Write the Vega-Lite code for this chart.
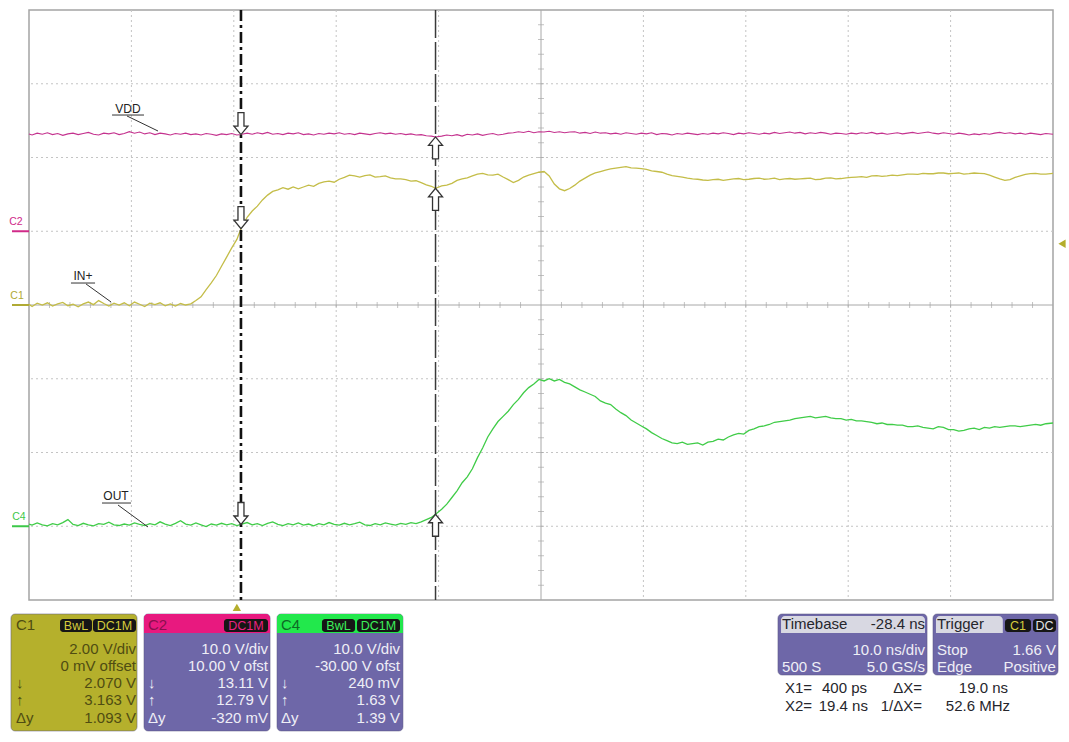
{
  "$schema": "https://vega.github.io/schema/vega-lite/v6.json",
  "width": 1024,
  "height": 590,
  "autosize": {"type": "none"},
  "padding": {"left": 29, "top": 10, "right": 16, "bottom": 142},
  "background": "#ffffff",
  "config": {"view": {"stroke": "#a4a4a4", "strokeWidth": 1.5}},
  "resolve": {"scale": {"x": "independent", "y": "independent", "color": "independent", "fill": "independent", "shape": "independent"}},
  "datasets": {
    "c1": [
      {"t": -20.3, "v": 0.02}, {"t": -20, "v": -0.04}, {"t": -19.5, "v": 0.05}, {"t": -19, "v": 0.0}, {"t": -18.5, "v": 0.06},
      {"t": -18, "v": -0.03}, {"t": -17.5, "v": 0.03}, {"t": -17, "v": 0.07}, {"t": -16.5, "v": -0.02}, {"t": -16, "v": 0.02},
      {"t": -15.5, "v": -0.05}, {"t": -15, "v": 0.03}, {"t": -14.5, "v": 0.08}, {"t": -14, "v": 0.01}, {"t": -13.5, "v": 0.12},
      {"t": -13, "v": 0.04}, {"t": -12.5, "v": -0.03}, {"t": -12, "v": 0.05}, {"t": -11.5, "v": 0.0}, {"t": -11, "v": 0.06},
      {"t": -10.5, "v": -0.02}, {"t": -10, "v": 0.08}, {"t": -9.5, "v": 0.02}, {"t": -9, "v": -0.04}, {"t": -8.5, "v": 0.05},
      {"t": -8, "v": 0.01}, {"t": -7.5, "v": 0.06}, {"t": -7, "v": -0.02}, {"t": -6.5, "v": 0.03}, {"t": -6, "v": -0.03},
      {"t": -5.5, "v": 0.04}, {"t": -5, "v": 0.0}, {"t": -4.5, "v": 0.03}, {"t": -4, "v": 0.12}, {"t": -3.5, "v": 0.22},
      {"t": -3, "v": 0.42}, {"t": -2.5, "v": 0.6}, {"t": -2, "v": 0.8}, {"t": -1.5, "v": 1.05}, {"t": -1, "v": 1.3},
      {"t": -0.5, "v": 1.55}, {"t": 0, "v": 1.78}, {"t": 0.4, "v": 2.07}, {"t": 1, "v": 2.38}, {"t": 1.5, "v": 2.55},
      {"t": 2, "v": 2.68}, {"t": 2.5, "v": 2.85}, {"t": 3, "v": 2.98}, {"t": 3.5, "v": 3.08}, {"t": 4, "v": 3.12},
      {"t": 4.5, "v": 3.18}, {"t": 5, "v": 3.14}, {"t": 5.5, "v": 3.2}, {"t": 6, "v": 3.15}, {"t": 6.5, "v": 3.2},
      {"t": 7, "v": 3.25}, {"t": 7.5, "v": 3.22}, {"t": 8, "v": 3.3}, {"t": 8.5, "v": 3.34}, {"t": 9, "v": 3.36},
      {"t": 9.5, "v": 3.33}, {"t": 10, "v": 3.41}, {"t": 10.5, "v": 3.46}, {"t": 11, "v": 3.52}, {"t": 11.5, "v": 3.5},
      {"t": 12, "v": 3.47}, {"t": 12.5, "v": 3.51}, {"t": 13, "v": 3.53}, {"t": 13.5, "v": 3.47}, {"t": 14, "v": 3.48},
      {"t": 14.5, "v": 3.5}, {"t": 15, "v": 3.45}, {"t": 15.5, "v": 3.42}, {"t": 16, "v": 3.42}, {"t": 16.5, "v": 3.4},
      {"t": 17, "v": 3.36}, {"t": 17.5, "v": 3.37}, {"t": 18, "v": 3.32}, {"t": 18.5, "v": 3.26}, {"t": 19, "v": 3.22},
      {"t": 19.4, "v": 3.163}, {"t": 20, "v": 3.23}, {"t": 20.5, "v": 3.25}, {"t": 21, "v": 3.3}, {"t": 21.5, "v": 3.38},
      {"t": 22, "v": 3.42}, {"t": 22.5, "v": 3.45}, {"t": 23, "v": 3.5}, {"t": 23.5, "v": 3.55}, {"t": 24, "v": 3.57},
      {"t": 24.5, "v": 3.53}, {"t": 25, "v": 3.52}, {"t": 25.5, "v": 3.55}, {"t": 26, "v": 3.47}, {"t": 26.5, "v": 3.4},
      {"t": 27, "v": 3.32}, {"t": 27.5, "v": 3.38}, {"t": 28, "v": 3.47}, {"t": 28.5, "v": 3.52}, {"t": 29, "v": 3.56},
      {"t": 29.5, "v": 3.6}, {"t": 30, "v": 3.62}, {"t": 30.5, "v": 3.5}, {"t": 31, "v": 3.28}, {"t": 31.5, "v": 3.15},
      {"t": 32, "v": 3.1}, {"t": 32.5, "v": 3.16}, {"t": 33, "v": 3.25}, {"t": 33.5, "v": 3.36}, {"t": 34, "v": 3.44},
      {"t": 34.5, "v": 3.52}, {"t": 35, "v": 3.58}, {"t": 35.5, "v": 3.62}, {"t": 36, "v": 3.66}, {"t": 36.5, "v": 3.69},
      {"t": 37, "v": 3.71}, {"t": 37.5, "v": 3.73}, {"t": 38, "v": 3.75}, {"t": 38.5, "v": 3.72}, {"t": 39, "v": 3.71},
      {"t": 39.5, "v": 3.7}, {"t": 40, "v": 3.68}, {"t": 40.5, "v": 3.64}, {"t": 41, "v": 3.62}, {"t": 41.5, "v": 3.6},
      {"t": 42, "v": 3.55}, {"t": 42.5, "v": 3.51}, {"t": 43, "v": 3.49}, {"t": 43.5, "v": 3.47}, {"t": 44, "v": 3.44},
      {"t": 44.5, "v": 3.42}, {"t": 45, "v": 3.41}, {"t": 45.5, "v": 3.39}, {"t": 46, "v": 3.38}, {"t": 46.5, "v": 3.4},
      {"t": 47, "v": 3.41}, {"t": 47.5, "v": 3.38}, {"t": 48, "v": 3.4}, {"t": 48.5, "v": 3.42}, {"t": 49, "v": 3.43},
      {"t": 49.5, "v": 3.4}, {"t": 50, "v": 3.41}, {"t": 50.5, "v": 3.43}, {"t": 51, "v": 3.44}, {"t": 51.5, "v": 3.41},
      {"t": 52, "v": 3.42}, {"t": 52.5, "v": 3.44}, {"t": 53, "v": 3.4}, {"t": 53.5, "v": 3.42}, {"t": 54, "v": 3.43},
      {"t": 54.5, "v": 3.41}, {"t": 55, "v": 3.42}, {"t": 55.5, "v": 3.43}, {"t": 56, "v": 3.44}, {"t": 56.5, "v": 3.4},
      {"t": 57, "v": 3.41}, {"t": 57.5, "v": 3.44}, {"t": 58, "v": 3.45}, {"t": 58.5, "v": 3.42}, {"t": 59, "v": 3.43},
      {"t": 59.5, "v": 3.45}, {"t": 60, "v": 3.46}, {"t": 60.5, "v": 3.47}, {"t": 61, "v": 3.48}, {"t": 61.5, "v": 3.46},
      {"t": 62, "v": 3.5}, {"t": 62.5, "v": 3.51}, {"t": 63, "v": 3.49}, {"t": 63.5, "v": 3.5}, {"t": 64, "v": 3.52},
      {"t": 64.5, "v": 3.51}, {"t": 65, "v": 3.53}, {"t": 65.5, "v": 3.55}, {"t": 66, "v": 3.55}, {"t": 66.5, "v": 3.54},
      {"t": 67, "v": 3.57}, {"t": 67.5, "v": 3.56}, {"t": 68, "v": 3.56}, {"t": 68.5, "v": 3.58}, {"t": 69, "v": 3.58},
      {"t": 69.5, "v": 3.56}, {"t": 70, "v": 3.57}, {"t": 70.5, "v": 3.58}, {"t": 71, "v": 3.55}, {"t": 71.5, "v": 3.56},
      {"t": 72, "v": 3.58}, {"t": 72.5, "v": 3.57}, {"t": 73, "v": 3.56}, {"t": 73.5, "v": 3.52}, {"t": 74, "v": 3.47},
      {"t": 74.5, "v": 3.42}, {"t": 75, "v": 3.38}, {"t": 75.5, "v": 3.4}, {"t": 76, "v": 3.46}, {"t": 76.5, "v": 3.5},
      {"t": 77, "v": 3.54}, {"t": 77.5, "v": 3.56}, {"t": 78, "v": 3.57}, {"t": 78.5, "v": 3.55}, {"t": 79, "v": 3.55},
      {"t": 79.7, "v": 3.57}
    ],
    "c2": [
      {"t": -20.3, "v": 13.2}, {"t": -20, "v": 13.05}, {"t": -19.5, "v": 13.3}, {"t": -19, "v": 13.15}, {"t": -18.5, "v": 13.35},
      {"t": -18, "v": 13.1}, {"t": -17.5, "v": 13.25}, {"t": -17, "v": 13.0}, {"t": -16.5, "v": 13.2}, {"t": -16, "v": 13.3},
      {"t": -15.5, "v": 13.1}, {"t": -15, "v": 13.25}, {"t": -14.5, "v": 13.4}, {"t": -14, "v": 13.15}, {"t": -13.5, "v": 13.05},
      {"t": -13, "v": 13.3}, {"t": -12.5, "v": 13.2}, {"t": -12, "v": 13.35}, {"t": -11.5, "v": 13.1}, {"t": -11, "v": 13.25},
      {"t": -10.5, "v": 13.5}, {"t": -10, "v": 13.3}, {"t": -9.5, "v": 13.45}, {"t": -9, "v": 13.2}, {"t": -8.5, "v": 13.35},
      {"t": -8, "v": 13.1}, {"t": -7.5, "v": 13.3}, {"t": -7, "v": 13.2}, {"t": -6.5, "v": 13.05}, {"t": -6, "v": 13.25},
      {"t": -5.5, "v": 13.15}, {"t": -5, "v": 13.3}, {"t": -4.5, "v": 13.1}, {"t": -4, "v": 13.2}, {"t": -3.5, "v": 13.05},
      {"t": -3, "v": 13.25}, {"t": -2.5, "v": 13.15}, {"t": -2, "v": 13.0}, {"t": -1.5, "v": 13.2}, {"t": -1, "v": 13.1},
      {"t": -0.5, "v": 13.25}, {"t": 0, "v": 13.05}, {"t": 0.4, "v": 13.11}, {"t": 1, "v": 13.3}, {"t": 1.5, "v": 13.15},
      {"t": 2, "v": 13.35}, {"t": 2.5, "v": 13.2}, {"t": 3, "v": 13.4}, {"t": 3.5, "v": 13.15}, {"t": 4, "v": 13.25},
      {"t": 4.5, "v": 13.1}, {"t": 5, "v": 13.3}, {"t": 5.5, "v": 13.2}, {"t": 6, "v": 13.35}, {"t": 6.5, "v": 13.1},
      {"t": 7, "v": 13.2}, {"t": 7.5, "v": 13.05}, {"t": 8, "v": 13.25}, {"t": 8.5, "v": 13.15}, {"t": 9, "v": 13.3},
      {"t": 9.5, "v": 13.2}, {"t": 10, "v": 13.35}, {"t": 10.5, "v": 13.15}, {"t": 11, "v": 13.25}, {"t": 11.5, "v": 13.1},
      {"t": 12, "v": 13.3}, {"t": 12.5, "v": 13.2}, {"t": 13, "v": 13.1}, {"t": 13.5, "v": 13.25}, {"t": 14, "v": 13.35},
      {"t": 14.5, "v": 13.2}, {"t": 15, "v": 13.3}, {"t": 15.5, "v": 13.15}, {"t": 16, "v": 13.25}, {"t": 16.5, "v": 13.1},
      {"t": 17, "v": 13.2}, {"t": 17.5, "v": 13.05}, {"t": 18, "v": 13.1}, {"t": 18.5, "v": 12.95}, {"t": 19, "v": 12.9},
      {"t": 19.4, "v": 12.79}, {"t": 20, "v": 12.9}, {"t": 20.5, "v": 13.05}, {"t": 21, "v": 12.95}, {"t": 21.5, "v": 13.1},
      {"t": 22, "v": 12.9}, {"t": 22.5, "v": 13.15}, {"t": 23, "v": 13.05}, {"t": 23.5, "v": 13.2}, {"t": 24, "v": 13.0},
      {"t": 24.5, "v": 13.15}, {"t": 25, "v": 13.25}, {"t": 25.5, "v": 13.05}, {"t": 26, "v": 13.15}, {"t": 26.5, "v": 13.3},
      {"t": 27, "v": 13.35}, {"t": 27.5, "v": 13.5}, {"t": 28, "v": 13.4}, {"t": 28.5, "v": 13.55}, {"t": 29, "v": 13.35},
      {"t": 29.5, "v": 13.5}, {"t": 30, "v": 13.45}, {"t": 30.5, "v": 13.55}, {"t": 31, "v": 13.4}, {"t": 31.5, "v": 13.5},
      {"t": 32, "v": 13.35}, {"t": 32.5, "v": 13.45}, {"t": 33, "v": 13.5}, {"t": 33.5, "v": 13.3}, {"t": 34, "v": 13.4},
      {"t": 34.5, "v": 13.25}, {"t": 35, "v": 13.45}, {"t": 35.5, "v": 13.3}, {"t": 36, "v": 13.35}, {"t": 36.5, "v": 13.2},
      {"t": 37, "v": 13.3}, {"t": 37.5, "v": 13.15}, {"t": 38, "v": 13.35}, {"t": 38.5, "v": 13.25}, {"t": 39, "v": 13.15},
      {"t": 39.5, "v": 13.3}, {"t": 40, "v": 13.2}, {"t": 40.5, "v": 13.35}, {"t": 41, "v": 13.1}, {"t": 41.5, "v": 13.25},
      {"t": 42, "v": 13.2}, {"t": 42.5, "v": 13.05}, {"t": 43, "v": 13.25}, {"t": 43.5, "v": 13.15}, {"t": 44, "v": 13.3},
      {"t": 44.5, "v": 13.2}, {"t": 45, "v": 13.1}, {"t": 45.5, "v": 13.25}, {"t": 46, "v": 13.15}, {"t": 46.5, "v": 13.3},
      {"t": 47, "v": 13.2}, {"t": 47.5, "v": 13.35}, {"t": 48, "v": 13.25}, {"t": 48.5, "v": 13.1}, {"t": 49, "v": 13.3},
      {"t": 49.5, "v": 13.2}, {"t": 50, "v": 13.35}, {"t": 50.5, "v": 13.25}, {"t": 51, "v": 13.15}, {"t": 51.5, "v": 13.3},
      {"t": 52, "v": 13.2}, {"t": 52.5, "v": 13.4}, {"t": 53, "v": 13.25}, {"t": 53.5, "v": 13.35}, {"t": 54, "v": 13.45},
      {"t": 54.5, "v": 13.3}, {"t": 55, "v": 13.4}, {"t": 55.5, "v": 13.2}, {"t": 56, "v": 13.35}, {"t": 56.5, "v": 13.25},
      {"t": 57, "v": 13.4}, {"t": 57.5, "v": 13.3}, {"t": 58, "v": 13.15}, {"t": 58.5, "v": 13.3}, {"t": 59, "v": 13.25},
      {"t": 59.5, "v": 13.15}, {"t": 60, "v": 13.3}, {"t": 60.5, "v": 13.2}, {"t": 61, "v": 13.35}, {"t": 61.5, "v": 13.25},
      {"t": 62, "v": 13.4}, {"t": 62.5, "v": 13.2}, {"t": 63, "v": 13.3}, {"t": 63.5, "v": 13.15}, {"t": 64, "v": 13.25},
      {"t": 64.5, "v": 13.35}, {"t": 65, "v": 13.2}, {"t": 65.5, "v": 13.3}, {"t": 66, "v": 13.4}, {"t": 66.5, "v": 13.25},
      {"t": 67, "v": 13.35}, {"t": 67.5, "v": 13.45}, {"t": 68, "v": 13.3}, {"t": 68.5, "v": 13.2}, {"t": 69, "v": 13.35},
      {"t": 69.5, "v": 13.25}, {"t": 70, "v": 13.15}, {"t": 70.5, "v": 13.3}, {"t": 71, "v": 13.2}, {"t": 71.5, "v": 13.05},
      {"t": 72, "v": 13.2}, {"t": 72.5, "v": 13.1}, {"t": 73, "v": 13.25}, {"t": 73.5, "v": 13.15}, {"t": 74, "v": 13.3},
      {"t": 74.5, "v": 13.4}, {"t": 75, "v": 13.25}, {"t": 75.5, "v": 13.35}, {"t": 76, "v": 13.2}, {"t": 76.5, "v": 13.3},
      {"t": 77, "v": 13.15}, {"t": 77.5, "v": 13.3}, {"t": 78, "v": 13.2}, {"t": 78.5, "v": 13.1}, {"t": 79, "v": 13.25},
      {"t": 79.7, "v": 13.15}
    ],
    "c4": [
      {"t": -20.3, "v": 0.3}, {"t": -20, "v": 0.15}, {"t": -19.5, "v": 0.45}, {"t": -19, "v": 0.2}, {"t": -18.5, "v": 0.05},
      {"t": -18, "v": 0.35}, {"t": -17.5, "v": 0.2}, {"t": -17, "v": 0.5}, {"t": -16.5, "v": 0.9}, {"t": -16, "v": 0.25},
      {"t": -15.5, "v": 0.1}, {"t": -15, "v": 0.4}, {"t": -14.5, "v": 0.2}, {"t": -14, "v": 0.05}, {"t": -13.5, "v": 0.35},
      {"t": -13, "v": 0.25}, {"t": -12.5, "v": 0.55}, {"t": -12, "v": 0.2}, {"t": -11.5, "v": 0.1}, {"t": -11, "v": 0.3},
      {"t": -10.5, "v": 0.15}, {"t": -10, "v": 0.45}, {"t": -9.5, "v": 0.25}, {"t": -9, "v": 0.1}, {"t": -8.5, "v": 0.35},
      {"t": -8, "v": 0.2}, {"t": -7.5, "v": 0.6}, {"t": -7, "v": 0.3}, {"t": -6.5, "v": 0.1}, {"t": -6, "v": 0.4},
      {"t": -5.5, "v": 0.75}, {"t": -5, "v": 0.3}, {"t": -4.5, "v": 0.15}, {"t": -4, "v": 0.45}, {"t": -3.5, "v": 0.2},
      {"t": -3, "v": -0.05}, {"t": -2.5, "v": 0.3}, {"t": -2, "v": 0.15}, {"t": -1.5, "v": 0.4}, {"t": -1, "v": 0.2},
      {"t": -0.5, "v": 0.35}, {"t": 0, "v": 0.1}, {"t": 0.4, "v": 0.24}, {"t": 1, "v": 0.5}, {"t": 1.5, "v": 0.2},
      {"t": 2, "v": 0.35}, {"t": 2.5, "v": 0.1}, {"t": 3, "v": 0.4}, {"t": 3.5, "v": 0.6}, {"t": 4, "v": 0.25},
      {"t": 4.5, "v": 0.1}, {"t": 5, "v": 0.35}, {"t": 5.5, "v": 0.2}, {"t": 6, "v": 0.45}, {"t": 6.5, "v": 0.15},
      {"t": 7, "v": 0.3}, {"t": 7.5, "v": 0.05}, {"t": 8, "v": 0.35}, {"t": 8.5, "v": 0.2}, {"t": 9, "v": 0.5},
      {"t": 9.5, "v": 0.25}, {"t": 10, "v": 0.15}, {"t": 10.5, "v": 0.4}, {"t": 11, "v": 0.2}, {"t": 11.5, "v": 0.35},
      {"t": 12, "v": 0.55}, {"t": 12.5, "v": 0.2}, {"t": 13, "v": 0.1}, {"t": 13.5, "v": 0.35}, {"t": 14, "v": 0.2},
      {"t": 14.5, "v": 0.45}, {"t": 15, "v": 0.3}, {"t": 15.5, "v": 0.15}, {"t": 16, "v": 0.4}, {"t": 16.5, "v": 0.25},
      {"t": 17, "v": 0.5}, {"t": 17.5, "v": 0.35}, {"t": 18, "v": 0.6}, {"t": 18.5, "v": 0.9}, {"t": 19, "v": 1.2},
      {"t": 19.4, "v": 1.63}, {"t": 20, "v": 2.3}, {"t": 20.5, "v": 3.0}, {"t": 21, "v": 3.9}, {"t": 21.5, "v": 4.8},
      {"t": 22, "v": 5.9}, {"t": 22.5, "v": 6.7}, {"t": 23, "v": 7.8}, {"t": 23.5, "v": 9.3}, {"t": 24, "v": 10.6},
      {"t": 24.5, "v": 12.1}, {"t": 25, "v": 13.2}, {"t": 25.5, "v": 14.2}, {"t": 26, "v": 14.9}, {"t": 26.5, "v": 15.6},
      {"t": 27, "v": 16.5}, {"t": 27.5, "v": 17.2}, {"t": 28, "v": 18.1}, {"t": 28.5, "v": 18.8}, {"t": 29, "v": 19.3},
      {"t": 29.5, "v": 19.9}, {"t": 30, "v": 19.7}, {"t": 30.5, "v": 20.0}, {"t": 31, "v": 19.7}, {"t": 31.5, "v": 19.9},
      {"t": 32, "v": 19.5}, {"t": 32.5, "v": 19.3}, {"t": 33, "v": 18.9}, {"t": 33.5, "v": 18.5}, {"t": 34, "v": 18.2},
      {"t": 34.5, "v": 17.9}, {"t": 35, "v": 17.6}, {"t": 35.5, "v": 17.0}, {"t": 36, "v": 16.7}, {"t": 36.5, "v": 16.5},
      {"t": 37, "v": 15.9}, {"t": 37.5, "v": 15.4}, {"t": 38, "v": 15.0}, {"t": 38.5, "v": 14.4}, {"t": 39, "v": 14.0},
      {"t": 39.5, "v": 13.6}, {"t": 40, "v": 13.2}, {"t": 40.5, "v": 12.7}, {"t": 41, "v": 12.3}, {"t": 41.5, "v": 11.9},
      {"t": 42, "v": 11.6}, {"t": 42.5, "v": 11.3}, {"t": 43, "v": 11.2}, {"t": 43.5, "v": 11.4}, {"t": 44, "v": 11.1},
      {"t": 44.5, "v": 11.2}, {"t": 45, "v": 11.3}, {"t": 45.5, "v": 11.0}, {"t": 46, "v": 11.4}, {"t": 46.5, "v": 11.5},
      {"t": 47, "v": 11.8}, {"t": 47.5, "v": 11.7}, {"t": 48, "v": 12.1}, {"t": 48.5, "v": 12.4}, {"t": 49, "v": 12.6},
      {"t": 49.5, "v": 12.5}, {"t": 50, "v": 13.0}, {"t": 50.5, "v": 13.2}, {"t": 51, "v": 13.5}, {"t": 51.5, "v": 13.6},
      {"t": 52, "v": 13.8}, {"t": 52.5, "v": 14.1}, {"t": 53, "v": 14.2}, {"t": 53.5, "v": 14.3}, {"t": 54, "v": 14.4},
      {"t": 54.5, "v": 14.6}, {"t": 55, "v": 14.7}, {"t": 55.5, "v": 14.8}, {"t": 56, "v": 14.9}, {"t": 56.5, "v": 14.7},
      {"t": 57, "v": 14.8}, {"t": 57.5, "v": 14.9}, {"t": 58, "v": 14.7}, {"t": 58.5, "v": 14.6}, {"t": 59, "v": 14.6},
      {"t": 59.5, "v": 14.4}, {"t": 60, "v": 14.5}, {"t": 60.5, "v": 14.3}, {"t": 61, "v": 14.3}, {"t": 61.5, "v": 14.2},
      {"t": 62, "v": 14.1}, {"t": 62.5, "v": 13.9}, {"t": 63, "v": 14.0}, {"t": 63.5, "v": 13.8}, {"t": 64, "v": 13.8},
      {"t": 64.5, "v": 13.7}, {"t": 65, "v": 13.7}, {"t": 65.5, "v": 13.5}, {"t": 66, "v": 13.5}, {"t": 66.5, "v": 13.6},
      {"t": 67, "v": 13.4}, {"t": 67.5, "v": 13.3}, {"t": 68, "v": 13.2}, {"t": 68.5, "v": 13.5}, {"t": 69, "v": 13.4},
      {"t": 69.5, "v": 13.1}, {"t": 70, "v": 13.1}, {"t": 70.5, "v": 12.9}, {"t": 71, "v": 13.0}, {"t": 71.5, "v": 13.2},
      {"t": 72, "v": 13.3}, {"t": 72.5, "v": 13.1}, {"t": 73, "v": 13.4}, {"t": 73.5, "v": 13.3}, {"t": 74, "v": 13.5},
      {"t": 74.5, "v": 13.4}, {"t": 75, "v": 13.5}, {"t": 75.5, "v": 13.6}, {"t": 76, "v": 13.6}, {"t": 76.5, "v": 13.5},
      {"t": 77, "v": 13.6}, {"t": 77.5, "v": 13.7}, {"t": 78, "v": 13.8}, {"t": 78.5, "v": 13.7}, {"t": 79, "v": 13.9},
      {"t": 79.7, "v": 14.0}
    ],
    "boxes": [
      {"part": "C1 body", "x": -0.176, "x2": 1.055, "y": -4.19, "y2": -5.776},
      {"part": "channel body", "x": 1.123, "x2": 2.354, "y": -4.19, "y2": -5.776},
      {"part": "channel body", "x": 2.422, "x2": 3.652, "y": -4.19, "y2": -5.776},
      {"part": "channel body", "x": 7.314, "x2": 8.77, "y": -4.19, "y2": -5.017},
      {"part": "channel body", "x": 8.828, "x2": 10.049, "y": -4.19, "y2": -5.017}
    ],
    "headers": [
      {"part": "C2 header", "x": 1.123, "x2": 2.354, "y": -4.19, "y2": -4.447},
      {"part": "C4 header", "x": 2.422, "x2": 3.652, "y": -4.19, "y2": -4.447},
      {"part": "info header", "x": 7.344, "x2": 8.75, "y": -4.217, "y2": -4.447},
      {"part": "info header", "x": 8.857, "x2": 9.51, "y": -4.217, "y2": -4.447}
    ],
    "badges": [
      {"x": 0.303, "x2": 0.615, "y": -4.258, "y2": -4.434},
      {"x": 0.625, "x2": 1.045, "y": -4.258, "y2": -4.434},
      {"x": 1.904, "x2": 2.334, "y": -4.258, "y2": -4.434},
      {"x": 2.861, "x2": 3.184, "y": -4.258, "y2": -4.434},
      {"x": 3.203, "x2": 3.623, "y": -4.258, "y2": -4.434},
      {"x": 9.531, "x2": 9.785, "y": -4.258, "y2": -4.434},
      {"x": 9.805, "x2": 10.029, "y": -4.258, "y2": -4.434}
    ],
    "textLeft": [
      {"x": -0.127, "y": -4.339, "text": "C1", "tone": "c1ink"},
      {"x": -0.127, "y": -5.125, "text": "↓", "tone": "c1ink"},
      {"x": -0.127, "y": -5.356, "text": "↑", "tone": "c1ink"},
      {"x": -0.127, "y": -5.6, "text": "Δy", "tone": "c1ink"},
      {"x": 1.162, "y": -4.339, "text": "C2", "tone": "c2ink"},
      {"x": 1.162, "y": -5.125, "text": "↓", "tone": "white"},
      {"x": 1.162, "y": -5.356, "text": "↑", "tone": "white"},
      {"x": 1.162, "y": -5.6, "text": "Δy", "tone": "white"},
      {"x": 2.461, "y": -4.339, "text": "C4", "tone": "c4ink"},
      {"x": 2.461, "y": -5.125, "text": "↓", "tone": "white"},
      {"x": 2.461, "y": -5.356, "text": "↑", "tone": "white"},
      {"x": 2.461, "y": -5.6, "text": "Δy", "tone": "white"},
      {"x": 7.354, "y": -4.325, "text": "Timebase", "tone": "dark"},
      {"x": 7.354, "y": -4.908, "text": "500 S", "tone": "white"},
      {"x": 8.867, "y": -4.325, "text": "Trigger", "tone": "dark"},
      {"x": 8.867, "y": -4.678, "text": "Stop", "tone": "white"},
      {"x": 8.867, "y": -4.908, "text": "Edge", "tone": "white"},
      {"x": 7.383, "y": -5.193, "text": "X1=", "tone": "dark"},
      {"x": 7.383, "y": -5.437, "text": "X2=", "tone": "dark"}
    ],
    "textRight": [
      {"x": 1.045, "y": -4.664, "text": "2.00 V/div", "tone": "c1ink"},
      {"x": 1.045, "y": -4.895, "text": "0 mV offset", "tone": "c1ink"},
      {"x": 1.045, "y": -5.125, "text": "2.070 V", "tone": "c1ink"},
      {"x": 1.045, "y": -5.356, "text": "3.163 V", "tone": "c1ink"},
      {"x": 1.045, "y": -5.6, "text": "1.093 V", "tone": "c1ink"},
      {"x": 2.334, "y": -4.664, "text": "10.0 V/div", "tone": "white"},
      {"x": 2.334, "y": -4.895, "text": "10.00 V ofst", "tone": "white"},
      {"x": 2.334, "y": -5.125, "text": "13.11 V", "tone": "white"},
      {"x": 2.334, "y": -5.356, "text": "12.79 V", "tone": "white"},
      {"x": 2.334, "y": -5.6, "text": "-320 mV", "tone": "white"},
      {"x": 3.623, "y": -4.664, "text": "10.0 V/div", "tone": "white"},
      {"x": 3.623, "y": -4.895, "text": "-30.00 V ofst", "tone": "white"},
      {"x": 3.623, "y": -5.125, "text": "240 mV", "tone": "white"},
      {"x": 3.623, "y": -5.356, "text": "1.63 V", "tone": "white"},
      {"x": 3.623, "y": -5.6, "text": "1.39 V", "tone": "white"},
      {"x": 8.75, "y": -4.325, "text": "-28.4 ns", "tone": "dark"},
      {"x": 8.75, "y": -4.678, "text": "10.0 ns/div", "tone": "white"},
      {"x": 8.75, "y": -4.908, "text": "5.0 GS/s", "tone": "white"},
      {"x": 10.029, "y": -4.678, "text": "1.66 V", "tone": "white"},
      {"x": 10.029, "y": -4.908, "text": "Positive", "tone": "white"},
      {"x": 8.184, "y": -5.193, "text": "400 ps", "tone": "dark"},
      {"x": 8.721, "y": -5.193, "text": "ΔX=", "tone": "dark"},
      {"x": 9.561, "y": -5.193, "text": "19.0 ns", "tone": "dark"},
      {"x": 8.193, "y": -5.437, "text": "19.4 ns", "tone": "dark"},
      {"x": 8.721, "y": -5.437, "text": "1/ΔX=", "tone": "dark"},
      {"x": 9.58, "y": -5.437, "text": "52.6 MHz", "tone": "dark"}
    ],
    "textBadge": [
      {"x": 0.459, "y": -4.346, "text": "BwL", "tone": "yellow"},
      {"x": 0.835, "y": -4.346, "text": "DC1M", "tone": "yellow"},
      {"x": 2.119, "y": -4.346, "text": "DC1M", "tone": "magenta"},
      {"x": 3.022, "y": -4.346, "text": "BwL", "tone": "green"},
      {"x": 3.413, "y": -4.346, "text": "DC1M", "tone": "green"},
      {"x": 9.658, "y": -4.346, "text": "C1", "tone": "yellow"},
      {"x": 9.917, "y": -4.346, "text": "DC", "tone": "light"}
    ]
  },
  "layer": [
    {
      "data": {"values": [1, 2, 3, 4, 6, 7, 8, 9]},
      "mark": {"type": "rule", "color": "#c4c4c4", "strokeWidth": 1, "strokeDash": [2, 3]},
      "encoding": {"x": {"field": "data", "type": "quantitative", "scale": {"domain": [0, 10], "nice": false, "zero": false}, "axis": null}}
    },
    {
      "data": {"values": [-3, -2, -1, 1, 2, 3]},
      "mark": {"type": "rule", "color": "#c4c4c4", "strokeWidth": 1, "strokeDash": [2, 3]},
      "encoding": {"y": {"field": "data", "type": "quantitative", "scale": {"domain": [-4, 4], "nice": false, "zero": false}, "axis": null}}
    },
    {
      "data": {"values": [5]},
      "mark": {"type": "rule", "color": "#a8a8a8", "strokeWidth": 1},
      "encoding": {"x": {"field": "data", "type": "quantitative", "scale": {"domain": [0, 10], "nice": false, "zero": false}, "axis": null}}
    },
    {
      "data": {"values": [0]},
      "mark": {"type": "rule", "color": "#a8a8a8", "strokeWidth": 1},
      "encoding": {"y": {"field": "data", "type": "quantitative", "scale": {"domain": [-4, 4], "nice": false, "zero": false}, "axis": null}}
    },
    {
      "data": {"values": [0.2,0.4,0.6,0.8,1,1.2,1.4,1.6,1.8,2,2.2,2.4,2.6,2.8,3,3.2,3.4,3.6,3.8,4,4.2,4.4,4.6,4.8,5.2,5.4,5.6,5.8,6,6.2,6.4,6.6,6.8,7,7.2,7.4,7.6,7.8,8,8.2,8.4,8.6,8.8,9,9.2,9.4,9.6,9.8]},
      "mark": {"type": "tick", "orient": "vertical", "color": "#a8a8a8", "size": 6, "thickness": 1},
      "encoding": {
        "x": {"field": "data", "type": "quantitative", "scale": {"domain": [0, 10], "nice": false, "zero": false}, "axis": null},
        "y": {"datum": 0, "type": "quantitative", "scale": {"domain": [-4, 4], "nice": false, "zero": false}, "axis": null}
      }
    },
    {
      "data": {"values": [-3.8,-3.6,-3.4,-3.2,-3,-2.8,-2.6,-2.4,-2.2,-2,-1.8,-1.6,-1.4,-1.2,-1,-0.8,-0.6,-0.4,-0.2,0.2,0.4,0.6,0.8,1,1.2,1.4,1.6,1.8,2,2.2,2.4,2.6,2.8,3,3.2,3.4,3.6,3.8]},
      "mark": {"type": "tick", "orient": "horizontal", "color": "#a8a8a8", "size": 6, "thickness": 1},
      "encoding": {
        "y": {"field": "data", "type": "quantitative", "scale": {"domain": [-4, 4], "nice": false, "zero": false}, "axis": null},
        "x": {"datum": 5, "type": "quantitative", "scale": {"domain": [0, 10], "nice": false, "zero": false}, "axis": null}
      }
    },
    {
      "data": {"name": "c2"},
      "mark": {"type": "line", "color": "#c4328e", "strokeWidth": 1.1},
      "encoding": {
        "x": {"field": "t", "type": "quantitative", "scale": {"domain": [-20.3, 79.7], "nice": false, "zero": false}, "axis": null},
        "y": {"field": "v", "type": "quantitative", "scale": {"domain": [-50, 30], "nice": false, "zero": false}, "axis": null}
      }
    },
    {
      "data": {"name": "c1"},
      "mark": {"type": "line", "color": "#c4bd48", "strokeWidth": 1.3},
      "encoding": {
        "x": {"field": "t", "type": "quantitative", "scale": {"domain": [-20.3, 79.7], "nice": false, "zero": false}, "axis": null},
        "y": {"field": "v", "type": "quantitative", "scale": {"domain": [-8, 8], "nice": false, "zero": false}, "axis": null}
      }
    },
    {
      "data": {"name": "c4"},
      "mark": {"type": "line", "color": "#40cc48", "strokeWidth": 1.3},
      "encoding": {
        "x": {"field": "t", "type": "quantitative", "scale": {"domain": [-20.3, 79.7], "nice": false, "zero": false}, "axis": null},
        "y": {"field": "v", "type": "quantitative", "scale": {"domain": [-10, 70], "nice": false, "zero": false}, "axis": null}
      }
    },
    {
      "data": {"values": [{"cursor": "X1", "t": 0.4}]},
      "mark": {"type": "rule", "color": "#111111", "strokeWidth": 2.6, "strokeDash": [11, 4, 3, 4]},
      "encoding": {"x": {"field": "t", "type": "quantitative", "scale": {"domain": [-20.3, 79.7], "nice": false, "zero": false}, "axis": null}}
    },
    {
      "data": {"values": [{"cursor": "X2", "t": 19.4}]},
      "mark": {"type": "rule", "color": "#3a3a3a", "strokeWidth": 1.5, "strokeDash": [28, 4]},
      "encoding": {"x": {"field": "t", "type": "quantitative", "scale": {"domain": [-20.3, 79.7], "nice": false, "zero": false}, "axis": null}}
    },
    {
      "data": {"values": [{"t": 0.4, "v": 13.11, "dir": "down"}, {"t": 19.4, "v": 12.79, "dir": "up"}]},
      "mark": {"type": "point", "filled": true, "fill": "#ffffff", "stroke": "#333333", "strokeWidth": 1.3, "opacity": 1, "size": 400},
      "encoding": {
        "x": {"field": "t", "type": "quantitative", "scale": {"domain": [-20.3, 79.7], "nice": false, "zero": false}, "axis": null},
        "y": {"field": "v", "type": "quantitative", "scale": {"domain": [-50, 30], "nice": false, "zero": false}, "axis": null},
        "shape": {"field": "dir", "type": "nominal", "legend": null, "scale": {"domain": ["down", "up"], "range": ["M-0.3,-2.2L0.3,-2.2L0.3,-0.85L0.7,-0.85L0,0L-0.7,-0.85L-0.3,-0.85Z", "M-0.3,2.2L0.3,2.2L0.3,0.85L0.7,0.85L0,0L-0.7,0.85L-0.3,0.85Z"]}}
      }
    },
    {
      "data": {"values": [{"t": 0.4, "v": 2.07, "dir": "down"}, {"t": 19.4, "v": 3.163, "dir": "up"}]},
      "mark": {"type": "point", "filled": true, "fill": "#ffffff", "stroke": "#333333", "strokeWidth": 1.3, "opacity": 1, "size": 400},
      "encoding": {
        "x": {"field": "t", "type": "quantitative", "scale": {"domain": [-20.3, 79.7], "nice": false, "zero": false}, "axis": null},
        "y": {"field": "v", "type": "quantitative", "scale": {"domain": [-8, 8], "nice": false, "zero": false}, "axis": null},
        "shape": {"field": "dir", "type": "nominal", "legend": null, "scale": {"domain": ["down", "up"], "range": ["M-0.3,-2.2L0.3,-2.2L0.3,-0.85L0.7,-0.85L0,0L-0.7,-0.85L-0.3,-0.85Z", "M-0.3,2.2L0.3,2.2L0.3,0.85L0.7,0.85L0,0L-0.7,0.85L-0.3,0.85Z"]}}
      }
    },
    {
      "data": {"values": [{"t": 0.4, "v": 0.24, "dir": "down"}, {"t": 19.4, "v": 1.63, "dir": "up"}]},
      "mark": {"type": "point", "filled": true, "fill": "#ffffff", "stroke": "#333333", "strokeWidth": 1.3, "opacity": 1, "size": 400},
      "encoding": {
        "x": {"field": "t", "type": "quantitative", "scale": {"domain": [-20.3, 79.7], "nice": false, "zero": false}, "axis": null},
        "y": {"field": "v", "type": "quantitative", "scale": {"domain": [-10, 70], "nice": false, "zero": false}, "axis": null},
        "shape": {"field": "dir", "type": "nominal", "legend": null, "scale": {"domain": ["down", "up"], "range": ["M-0.3,-2.2L0.3,-2.2L0.3,-0.85L0.7,-0.85L0,0L-0.7,-0.85L-0.3,-0.85Z", "M-0.3,2.2L0.3,2.2L0.3,0.85L0.7,0.85L0,0L-0.7,0.85L-0.3,0.85Z"]}}
      }
    },
    {
      "data": {"values": [{"x": 0.967, "y": 2.658, "text": "VDD"}, {"x": 0.527, "y": 0.393, "text": "IN+"}, {"x": 0.85, "y": -2.59, "text": "OUT"}]},
      "mark": {"type": "text", "font": "Liberation Sans", "fontSize": 12, "color": "#222222", "align": "center", "baseline": "middle"},
      "encoding": {
        "x": {"field": "x", "type": "quantitative", "scale": {"domain": [0, 10], "nice": false, "zero": false}, "axis": null},
        "y": {"field": "y", "type": "quantitative", "scale": {"domain": [-4, 4], "nice": false, "zero": false}, "axis": null},
        "text": {"field": "text"}
      }
    },
    {
      "data": {"values": [
        {"x": 0.811, "x2": 1.123, "y": 2.576, "y2": 2.576},
        {"x": 0.957, "x2": 1.26, "y": 2.563, "y2": 2.359},
        {"x": 0.41, "x2": 0.645, "y": 0.298, "y2": 0.298},
        {"x": 0.557, "x2": 0.801, "y": 0.285, "y2": 0.041},
        {"x": 0.713, "x2": 0.996, "y": -2.685, "y2": -2.685},
        {"x": 0.869, "x2": 1.162, "y": -2.712, "y2": -3.01}
      ]},
      "mark": {"type": "rule", "color": "#333333", "strokeWidth": 1},
      "encoding": {
        "x": {"field": "x", "type": "quantitative", "scale": {"domain": [0, 10], "nice": false, "zero": false}, "axis": null},
        "x2": {"field": "x2"},
        "y": {"field": "y", "type": "quantitative", "scale": {"domain": [-4, 4], "nice": false, "zero": false}, "axis": null},
        "y2": {"field": "y2"}
      }
    },
    {
      "data": {"values": [{"ch": "C2", "x": -0.127, "y": 1.125}, {"ch": "C1", "x": -0.117, "y": 0.122}, {"ch": "C4", "x": -0.098, "y": -2.875}]},
      "mark": {"type": "text", "font": "Liberation Sans", "fontSize": 10.5, "align": "center", "baseline": "middle"},
      "encoding": {
        "x": {"field": "x", "type": "quantitative", "scale": {"domain": [0, 10], "nice": false, "zero": false}, "axis": null},
        "y": {"field": "y", "type": "quantitative", "scale": {"domain": [-4, 4], "nice": false, "zero": false}, "axis": null},
        "text": {"field": "ch"},
        "color": {"field": "ch", "type": "nominal", "legend": null, "scale": {"domain": ["C1", "C2", "C4"], "range": ["#b0aa34", "#d02a88", "#3cc848"]}}
      }
    },
    {
      "data": {"values": [{"ch": "C2", "x": -0.166, "x2": 0, "y": 1}, {"ch": "C1", "x": -0.166, "x2": 0, "y": 0}, {"ch": "C4", "x": -0.166, "x2": 0, "y": -3}]},
      "mark": {"type": "rule", "strokeWidth": 2},
      "encoding": {
        "x": {"field": "x", "type": "quantitative", "scale": {"domain": [0, 10], "nice": false, "zero": false}, "axis": null},
        "x2": {"field": "x2"},
        "y": {"field": "y", "type": "quantitative", "scale": {"domain": [-4, 4], "nice": false, "zero": false}, "axis": null},
        "color": {"field": "ch", "type": "nominal", "legend": null, "scale": {"domain": ["C1", "C2", "C4"], "range": ["#b0aa34", "#d02a88", "#3cc848"]}}
      }
    },
    {
      "data": {"values": [{"marker": "trigger level"}]},
      "mark": {"type": "point", "shape": "triangle-left", "filled": true, "color": "#b4ae2c", "opacity": 1, "size": 70},
      "encoding": {
        "x": {"datum": 10.088, "type": "quantitative", "scale": {"domain": [0, 10], "nice": false, "zero": false}, "axis": null},
        "y": {"datum": 1.66, "type": "quantitative", "scale": {"domain": [-8, 8], "nice": false, "zero": false}, "axis": null}
      }
    },
    {
      "data": {"values": [{"marker": "trigger time"}]},
      "mark": {"type": "point", "shape": "triangle-up", "filled": true, "color": "#b4ae2c", "opacity": 1, "size": 70},
      "encoding": {
        "x": {"datum": 0, "type": "quantitative", "scale": {"domain": [-20.3, 79.7], "nice": false, "zero": false}, "axis": null},
        "y": {"datum": -4.1, "type": "quantitative", "scale": {"domain": [-4, 4], "nice": false, "zero": false}, "axis": null}
      }
    },
    {
      "data": {"name": "boxes"},
      "mark": {"type": "rect", "cornerRadius": 4, "stroke": "#5a5680", "strokeOpacity": 0.5, "strokeWidth": 1},
      "encoding": {
        "x": {"field": "x", "type": "quantitative", "scale": {"domain": [0, 10], "nice": false, "zero": false}, "axis": null},
        "x2": {"field": "x2"},
        "y": {"field": "y", "type": "quantitative", "scale": {"domain": [-4, 4], "nice": false, "zero": false}, "axis": null},
        "y2": {"field": "y2"},
        "fill": {"field": "part", "type": "nominal", "legend": null, "scale": {"domain": ["C1 body", "channel body"], "range": ["#b5b02c", "#6e67a8"]}}
      }
    },
    {
      "data": {"name": "headers"},
      "mark": {"type": "rect", "cornerRadiusTopLeft": 4, "cornerRadiusTopRight": 4},
      "encoding": {
        "x": {"field": "x", "type": "quantitative", "scale": {"domain": [0, 10], "nice": false, "zero": false}, "axis": null},
        "x2": {"field": "x2"},
        "y": {"field": "y", "type": "quantitative", "scale": {"domain": [-4, 4], "nice": false, "zero": false}, "axis": null},
        "y2": {"field": "y2"},
        "fill": {"field": "part", "type": "nominal", "legend": null, "scale": {"domain": ["C2 header", "C4 header", "info header"], "range": ["#e8197f", "#22e84c", "#d8d8e2"]}}
      }
    },
    {
      "data": {"name": "badges"},
      "mark": {"type": "rect", "cornerRadius": 3, "color": "#161616"},
      "encoding": {
        "x": {"field": "x", "type": "quantitative", "scale": {"domain": [0, 10], "nice": false, "zero": false}, "axis": null},
        "x2": {"field": "x2"},
        "y": {"field": "y", "type": "quantitative", "scale": {"domain": [-4, 4], "nice": false, "zero": false}, "axis": null},
        "y2": {"field": "y2"}
      }
    },
    {
      "data": {"name": "textLeft"},
      "mark": {"type": "text", "font": "Liberation Sans", "fontSize": 15, "align": "left", "baseline": "middle"},
      "encoding": {
        "x": {"field": "x", "type": "quantitative", "scale": {"domain": [0, 10], "nice": false, "zero": false}, "axis": null},
        "y": {"field": "y", "type": "quantitative", "scale": {"domain": [-4, 4], "nice": false, "zero": false}, "axis": null},
        "text": {"field": "text"},
        "color": {"field": "tone", "type": "nominal", "legend": null, "scale": {"domain": ["c1ink", "white", "c2ink", "c4ink", "dark", "yellow", "magenta", "green", "light"], "range": ["#4f4c12", "#eeeef6", "#8a0f4e", "#0e6a26", "#26262c", "#d4cc3c", "#ea2282", "#3cf05a", "#e4e4e4"]}}
      }
    },
    {
      "data": {"name": "textRight"},
      "mark": {"type": "text", "font": "Liberation Sans", "fontSize": 15, "align": "right", "baseline": "middle"},
      "encoding": {
        "x": {"field": "x", "type": "quantitative", "scale": {"domain": [0, 10], "nice": false, "zero": false}, "axis": null},
        "y": {"field": "y", "type": "quantitative", "scale": {"domain": [-4, 4], "nice": false, "zero": false}, "axis": null},
        "text": {"field": "text"},
        "color": {"field": "tone", "type": "nominal", "legend": null, "scale": {"domain": ["c1ink", "white", "c2ink", "c4ink", "dark", "yellow", "magenta", "green", "light"], "range": ["#4f4c12", "#eeeef6", "#8a0f4e", "#0e6a26", "#26262c", "#d4cc3c", "#ea2282", "#3cf05a", "#e4e4e4"]}}
      }
    },
    {
      "data": {"name": "textBadge"},
      "mark": {"type": "text", "font": "Liberation Sans", "fontSize": 12.5, "align": "center", "baseline": "middle"},
      "encoding": {
        "x": {"field": "x", "type": "quantitative", "scale": {"domain": [0, 10], "nice": false, "zero": false}, "axis": null},
        "y": {"field": "y", "type": "quantitative", "scale": {"domain": [-4, 4], "nice": false, "zero": false}, "axis": null},
        "text": {"field": "text"},
        "color": {"field": "tone", "type": "nominal", "legend": null, "scale": {"domain": ["c1ink", "white", "c2ink", "c4ink", "dark", "yellow", "magenta", "green", "light"], "range": ["#4f4c12", "#eeeef6", "#8a0f4e", "#0e6a26", "#26262c", "#d4cc3c", "#ea2282", "#3cf05a", "#e4e4e4"]}}
      }
    }
  ]
}
